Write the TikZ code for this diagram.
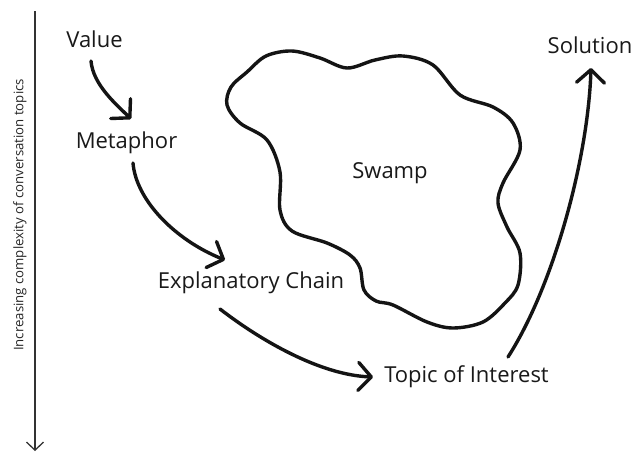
\documentclass[tikz,border=0pt]{standalone}
\usepackage{fontspec}
\setmainfont{Open Sans}
\usetikzlibrary{arrows.meta}
\begin{document}
\begin{tikzpicture}[x=1pt,y=-1pt,
  lbl/.style={inner sep=0pt, anchor=base, font=\fontsize{22}{24}\selectfont, text=black!90},
  conn/.style={line width=3.4pt, line cap=round, black!92,
     -{Straight Barb[length=13pt,width=28pt,line width=3.4pt,round]}},
  outline/.style={line width=3.4pt, black!92},
  axis/.style={line width=1.3pt, black!80, -{Straight Barb[length=8pt,width=17pt,line width=1.3pt]}}]
\useasboundingbox (0,0) rectangle (635,453);
\fill[white] (0,0) rectangle (635,453);

% axis
\coordinate (axtop) at (35,11);
\coordinate (axbot) at (35,451);
\draw[axis] (axtop) -- (axbot);
\node[inner sep=0pt, rotate=90, font=\fontsize{13.2}{15}\selectfont, text=black!85] (axlabel) at (20,215) {Increasing complexity of conversation topics};

% labels
\node[lbl] (value) at (94.5,47) {Value};
\node[lbl] (metaphor) at (126.5,148) {Metaphor};
\node[lbl] (expl) at (251,288) {Explanatory Chain};
\node[lbl] (topic) at (466.5,382) {Topic of Interest};
\node[lbl] (solution) at (590,53) {Solution};
\node[lbl] (swamp) at (390,178) {Swamp};

% swamp outline
\draw[outline] plot[smooth cycle, tension=0.55] coordinates {
 (247,72) (266,56) (292,51) (320,58) (347,68) (375,60) (403,56) (433,65)
 (460,95) (493,107) (513,123) (520,150) (503,183) (498,203) (507,227)
 (520,253) (518,285) (505,303) (483,322) (453,328) (427,322) (393,305)
 (376,301) (364,290) (360,268) (350,255) (327,243) (292,231) (280,210)
 (280,172) (267,140) (240,123) (227,105) (231,87)};

% connectors
\draw[conn] ([shift={(-3.5,14)}]value.base) .. controls (93,85) and (117,105) .. ([shift={(4.5,-29)}]metaphor.base);
\draw[conn] ([shift={(6.5,15)}]metaphor.base) .. controls (136,200) and (175,240) .. ([shift={(-26,-28)}]expl.base);
\draw[conn] ([shift={(-31,21)}]expl.base) .. controls (260,340) and (320,375) .. ([shift={(-93.5,-5)}]topic.base);
\draw[conn] ([shift={(41.5,-25)}]topic.base) .. controls (553,287) and (588,160) .. ([shift={(1,15)}]solution.base);
\end{tikzpicture}
\end{document}
